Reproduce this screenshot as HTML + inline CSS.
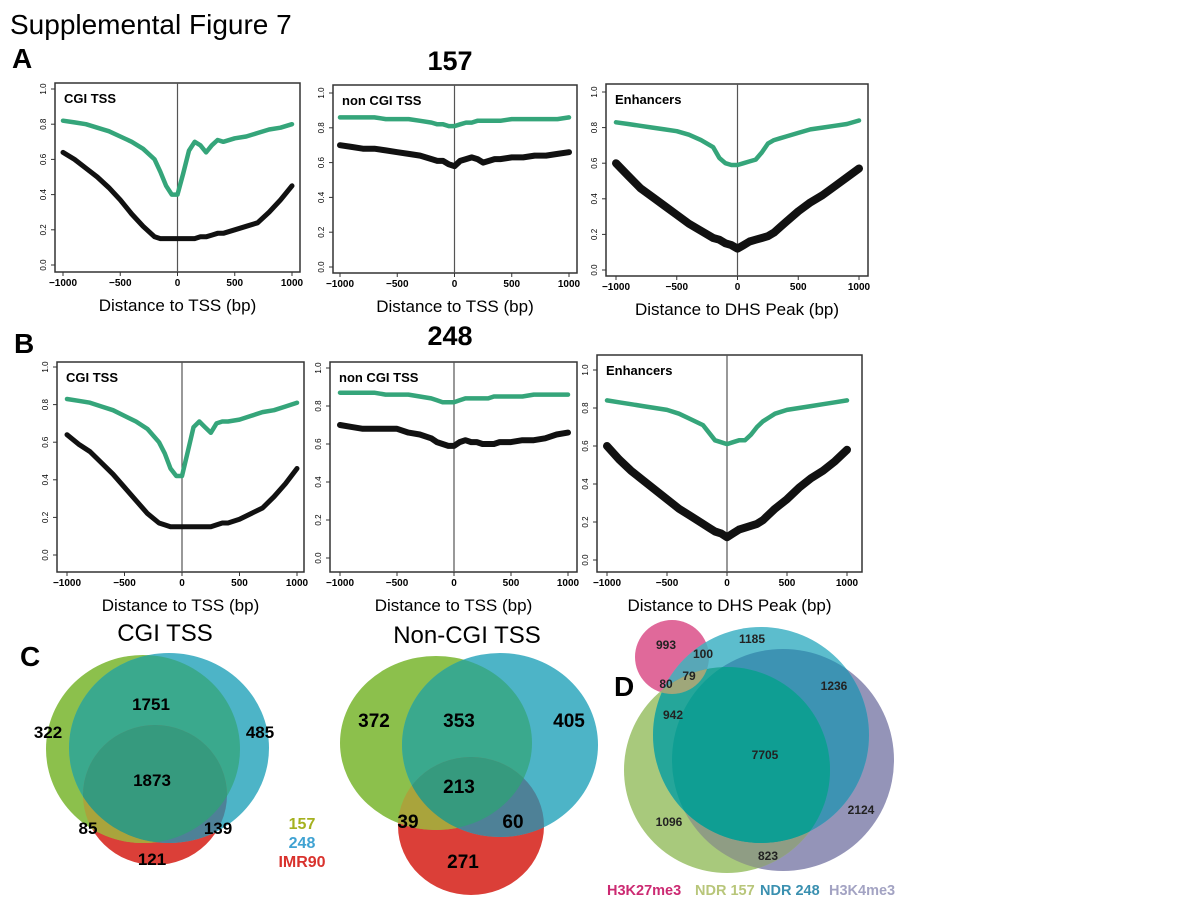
<!DOCTYPE html>
<html><head><meta charset="utf-8"><style>
body{margin:0;background:#fff;}
svg{display:block;font-family:"Liberation Sans",sans-serif;}
</style></head><body>
<svg id="fig" width="1200" height="900" viewBox="0 0 1200 900">
<defs>
<clipPath id="cLg"><ellipse cx="143" cy="749" rx="97" ry="94"/></clipPath>
<clipPath id="cLb"><ellipse cx="169" cy="748" rx="100" ry="95"/></clipPath>
<clipPath id="cRg"><ellipse cx="436" cy="743" rx="96" ry="87"/></clipPath>
<clipPath id="cRb"><ellipse cx="500" cy="745" rx="98" ry="92"/></clipPath>
<clipPath id="cDp"><circle cx="672" cy="657" r="37"/></clipPath>
<clipPath id="cDg"><circle cx="727" cy="770" r="103"/></clipPath>
<clipPath id="cDb"><circle cx="761" cy="735" r="108"/></clipPath>
<clipPath id="cDh"><circle cx="783" cy="760" r="111"/></clipPath>
</defs>
<text x="10" y="34" font-size="28">Supplemental Figure 7</text>
<text x="12" y="68" font-size="28" font-weight="bold">A</text>
<text x="450" y="70" font-size="27" font-weight="bold" text-anchor="middle">157</text>
<text x="14" y="353" font-size="28" font-weight="bold">B</text>
<text x="450" y="345" font-size="27" font-weight="bold" text-anchor="middle">248</text>
<g id="plots"></g>

<!-- Panel C -->
<text x="20" y="666" font-size="28" font-weight="bold">C</text>
<text x="165" y="641" font-size="24" text-anchor="middle">CGI TSS</text>
<g>
<ellipse cx="155" cy="795" rx="72" ry="70" fill="#db3f38"/>
<ellipse cx="143" cy="749" rx="97" ry="94" fill="#8cc04c"/>
<ellipse cx="169" cy="748" rx="100" ry="95" fill="#4db4c7"/>
<g clip-path="url(#cLg)"><ellipse cx="169" cy="748" rx="100" ry="95" fill="#3aa98d"/><ellipse cx="155" cy="795" rx="72" ry="70" fill="#a9a43c"/></g>
<g clip-path="url(#cLb)"><ellipse cx="155" cy="795" rx="72" ry="70" fill="#4e8197"/></g>
<g clip-path="url(#cLg)"><g clip-path="url(#cLb)"><ellipse cx="155" cy="795" rx="72" ry="70" fill="#369a7e"/></g></g>
</g>
<g font-size="17" font-weight="bold" text-anchor="middle">
<text x="151" y="710">1751</text>
<text x="48" y="738">322</text>
<text x="260" y="738">485</text>
<text x="152" y="786">1873</text>
<text x="88" y="834">85</text>
<text x="218" y="834">139</text>
<text x="152" y="865">121</text>
</g>
<g font-size="16" font-weight="bold" text-anchor="middle">
<text x="302" y="829" fill="#a5b11f">157</text>
<text x="302" y="848" fill="#3fa2d2">248</text>
<text x="302" y="867" fill="#d9322d">IMR90</text>
</g>
<text x="467" y="643" font-size="24" text-anchor="middle">Non-CGI TSS</text>
<g>
<ellipse cx="471" cy="826" rx="73" ry="69" fill="#db3f38"/>
<ellipse cx="436" cy="743" rx="96" ry="87" fill="#8cc04c"/>
<ellipse cx="500" cy="745" rx="98" ry="92" fill="#4db4c7"/>
<g clip-path="url(#cRg)"><ellipse cx="500" cy="745" rx="98" ry="92" fill="#3aa98d"/><ellipse cx="471" cy="826" rx="73" ry="69" fill="#a9a43c"/></g>
<g clip-path="url(#cRb)"><ellipse cx="471" cy="826" rx="73" ry="69" fill="#4e8197"/></g>
<g clip-path="url(#cRg)"><g clip-path="url(#cRb)"><ellipse cx="471" cy="826" rx="73" ry="69" fill="#369a7e"/></g></g>
</g>
<g font-size="19" font-weight="bold" text-anchor="middle">
<text x="374" y="727">372</text>
<text x="459" y="727">353</text>
<text x="569" y="727">405</text>
<text x="459" y="793">213</text>
<text x="408" y="828">39</text>
<text x="513" y="828">60</text>
<text x="463" y="868">271</text>
</g>

<!-- Panel D -->
<text x="614" y="696" font-size="28" font-weight="bold">D</text>
<g>
<circle cx="672" cy="657" r="37" fill="#e0699a"/>
<circle cx="783" cy="760" r="111" fill="#9494b8"/>
<circle cx="727" cy="770" r="103" fill="#a8c97c"/>
<circle cx="761" cy="735" r="108" fill="#5cbdcd"/>
<g clip-path="url(#cDg)"><circle cx="783" cy="760" r="111" fill="#8f9d84"/></g>
<g clip-path="url(#cDb)"><circle cx="783" cy="760" r="111" fill="#3d93b3"/><circle cx="727" cy="770" r="103" fill="#25a69a"/><circle cx="672" cy="657" r="37" fill="#58a7b7"/></g>
<g clip-path="url(#cDb)"><g clip-path="url(#cDg)"><circle cx="783" cy="760" r="111" fill="#0f9e93"/><circle cx="672" cy="657" r="37" fill="#2f9c92"/></g></g>
<g clip-path="url(#cDg)"><circle cx="672" cy="657" r="37" fill="#9fa77a"/></g>
</g>
<g font-size="12" font-weight="bold" text-anchor="middle" fill="#222">
<text x="666" y="649">993</text>
<text x="752" y="643">1185</text>
<text x="703" y="658">100</text>
<text x="689" y="680">79</text>
<text x="666" y="688">80</text>
<text x="834" y="690">1236</text>
<text x="673" y="719">942</text>
<text x="765" y="759">7705</text>
<text x="861" y="814">2124</text>
<text x="669" y="826">1096</text>
<text x="768" y="860">823</text>
</g>
<g font-size="14.5" font-weight="bold">
<text x="607" y="895" fill="#cc2a72">H3K27me3</text>
<text x="695" y="895" fill="#b8c67a">NDR 157</text>
<text x="760" y="895" fill="#3a90b0">NDR 248</text>
<text x="829" y="895" fill="#a3a3c3">H3K4me3</text>
</g>
</svg>
<script>
const xs = [-1000,-900,-800,-700,-600,-500,-400,-300,-200,-150,-100,-50,0,50,100,150,200,250,300,350,400,500,600,700,800,900,1000];
const xTicks = [-1000,-500,0,500,1000];
const yTicks = [0.0,0.2,0.4,0.6,0.8,1.0];
const a1Green = [.82,.81,.80,.78,.76,.73,.70,.66,.60,.53,.45,.40,.40,.52,.65,.70,.68,.64,.68,.71,.70,.72,.73,.75,.77,.78,.80];
const a1Black = [.64,.60,.55,.50,.44,.37,.29,.22,.16,.15,.15,.15,.15,.15,.15,.15,.16,.16,.17,.18,.18,.20,.22,.24,.30,.37,.45];
const a2Green = [.86,.86,.86,.86,.85,.85,.85,.84,.83,.82,.82,.81,.81,.82,.83,.83,.84,.84,.84,.84,.84,.85,.85,.85,.85,.85,.86];
const a2Black = [.70,.69,.68,.68,.67,.66,.65,.64,.62,.61,.61,.59,.58,.61,.62,.63,.62,.60,.61,.62,.62,.63,.63,.64,.64,.65,.66];
const a3Green = [.83,.82,.81,.80,.79,.78,.76,.73,.69,.63,.60,.59,.59,.60,.61,.62,.66,.71,.73,.74,.75,.77,.79,.80,.81,.82,.84];
const a3Black = [.60,.53,.46,.41,.36,.31,.26,.22,.18,.17,.15,.14,.12,.14,.16,.17,.18,.19,.21,.24,.27,.33,.38,.42,.47,.52,.57];
const b1Green = [.83,.82,.81,.79,.77,.74,.71,.67,.60,.54,.46,.42,.42,.55,.68,.71,.68,.65,.70,.71,.71,.72,.74,.76,.77,.79,.81];
const b1Black = [.64,.59,.55,.49,.43,.36,.29,.22,.17,.16,.15,.15,.15,.15,.15,.15,.15,.15,.16,.17,.17,.19,.22,.25,.31,.38,.46];
const b2Green = [.87,.87,.87,.87,.86,.86,.86,.85,.84,.83,.82,.82,.82,.83,.84,.84,.84,.84,.84,.85,.85,.85,.85,.86,.86,.86,.86];
const b2Black = [.70,.69,.68,.68,.68,.68,.66,.65,.63,.61,.60,.59,.59,.61,.62,.61,.61,.60,.60,.60,.61,.61,.62,.62,.63,.65,.66];
const b3Green = [.84,.83,.82,.81,.80,.79,.77,.74,.71,.67,.63,.62,.61,.62,.63,.63,.66,.70,.73,.75,.77,.79,.80,.81,.82,.83,.84];
const b3Black = [.60,.53,.47,.42,.37,.32,.27,.23,.19,.17,.15,.14,.12,.14,.16,.17,.18,.19,.21,.24,.27,.32,.38,.43,.47,.52,.58];

const NS = 'http://www.w3.org/2000/svg';
const root = document.getElementById('plots');
function mk(tag, attrs, parent){ const e=document.createElementNS(NS,tag); for(const k in attrs) e.setAttribute(k,attrs[k]); parent.appendChild(e); return e; }

const panels = [
 {id:'a-cgi', box:[55,83,300,272], xm:[-1000,63,1000,292], ym:[0,265,1,89], label:'CGI TSS', xt:'Distance to TSS (bp)', g:a1Green, b:a1Black, bw:5},
 {id:'a-noncgi', box:[333,85,577,273], xm:[-1000,340,1000,569], ym:[0,267,1,93], label:'non CGI TSS', xt:'Distance to TSS (bp)', g:a2Green, b:a2Black, bw:6},
 {id:'a-enh', box:[606,84,868,276], xm:[-1000,616,1000,859], ym:[0,270,1,92], label:'Enhancers', xt:'Distance to DHS Peak (bp)', g:a3Green, b:a3Black, bw:8},
 {id:'b-cgi', box:[57,362,304,572], xm:[-1000,67,1000,297], ym:[0,555,1,367], label:'CGI TSS', xt:'Distance to TSS (bp)', g:b1Green, b:b1Black, bw:5},
 {id:'b-noncgi', box:[330,362,577,572], xm:[-1000,340,1000,568], ym:[0,558,1,368], label:'non CGI TSS', xt:'Distance to TSS (bp)', g:b2Green, b:b2Black, bw:6},
 {id:'b-enh', box:[597,355,862,572], xm:[-1000,607,1000,847], ym:[0,560,1,370], label:'Enhancers', xt:'Distance to DHS Peak (bp)', g:b3Green, b:b3Black, bw:8}
];
panels.forEach(p=>{
  const g = mk('g',{},root);
  
  
  const sx = v => p.xm[1] + (v-p.xm[0])/(p.xm[2]-p.xm[0])*(p.xm[3]-p.xm[1]);
  const sy = v => p.ym[1] + (v-p.ym[0])/(p.ym[2]-p.ym[0])*(p.ym[3]-p.ym[1]);
  const [x0,y0,x1,y1] = p.box;
  const frame = mk('rect',{x:x0,y:y0,width:x1-x0,height:y1-y0,fill:'none',stroke:'#333','stroke-width':1.5},g);
  
  
  const vl = mk('line',{x1:sx(0),x2:sx(0),y1:y0,y2:y1,stroke:'#555','stroke-width':1.2},g);
  
  
  xTicks.forEach(t=>{
    mk('line',{x1:sx(t),x2:sx(t),y1:y1,y2:y1+4,stroke:'#333'},g);
    const tx = mk('text',{x:sx(t),y:y1+14,'font-size':10,'font-weight':'bold','text-anchor':'middle'},g);
    tx.textContent = t===-1000?'\u22121000':(t===-500?'\u2212500':String(t));
    
    
  });
  yTicks.forEach(t=>{
    mk('line',{x1:x0,x2:x0-4,y1:sy(t),y2:sy(t),stroke:'#333'},g);
    const ty = mk('text',{x:x0-9,y:sy(t),'font-size':8,'text-anchor':'middle',transform:`rotate(-90 ${x0-9} ${sy(t)})`},g);
    ty.textContent = t.toFixed(1);
    
    
  });
  const lb = mk('text',{x:x0+9,y:y0+20,'font-size':13,'font-weight':'bold'},g);
  lb.textContent = p.label;
  
  
  const xt = mk('text',{x:(x0+x1)/2,y:y1+39,'font-size':17,'text-anchor':'middle'},g);
  xt.textContent = p.xt;
  
  
  const path = arr => xs.map((x,i)=>(i?'L':'M')+sx(x).toFixed(1)+','+sy(arr[i]).toFixed(1)).join(' ');
  const gl = mk('path',{d:path(p.g),fill:'none',stroke:'#35a57a','stroke-width':4.5,'stroke-linejoin':'round','stroke-linecap':'round'},g);
  
  
  const bl = mk('path',{d:path(p.b),fill:'none',stroke:'#111','stroke-width':p.bw,'stroke-linejoin':'round','stroke-linecap':'round'},g);
  
  
});
</script>
</body></html>
